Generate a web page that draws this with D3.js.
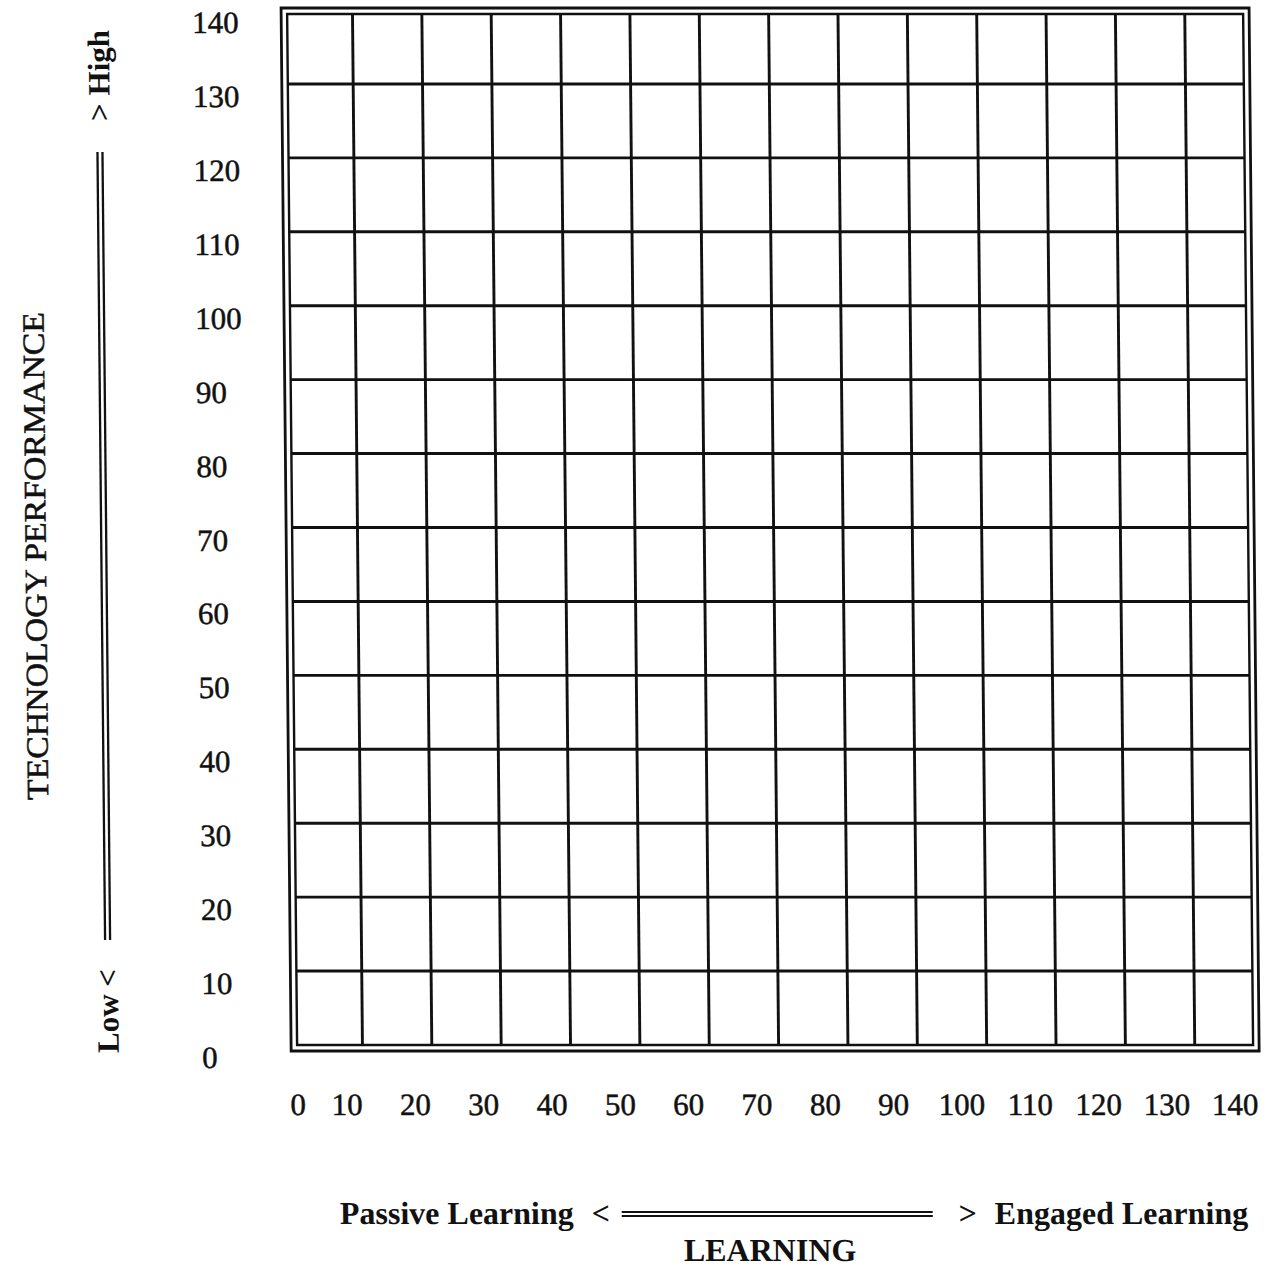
<!DOCTYPE html>
<html>
<head>
<meta charset="utf-8">
<script src="https://cdn.jsdelivr.net/npm/d3@7"></script>
<style>
  html, body { margin: 0; padding: 0; background: #fff; }
  svg { display: block; }
</style>
</head>
<body>
<div id="cont"></div>
<script>
// Tick values along each axis
var xTicks = [0, 10, 20, 30, 40, 50, 60, 70, 80, 90, 100, 110, 120, 130, 140];
var yTicks = [0, 10, 20, 30, 40, 50, 60, 70, 80, 90, 100, 110, 120, 130, 140];

// Axis captions
var yTitle = "TECHNOLOGY PERFORMANCE";
var yLow = "Low";
var yHigh = "High";
var xLow = "Passive Learning";
var xHigh = "Engaged Learning";
var xTitle = "LEARNING";

// Page
var W = 1271, H = 1267;
var serif = "'Liberation Serif', 'Times New Roman', serif";
var ink = "#111";

var svg = d3.select("#cont").append("svg")
    .attr("width", W)
    .attr("height", H);

svg.append("rect").attr("width", W).attr("height", H).attr("fill", "#fff");

// the scanned form leans a little to the right going down
var root = svg.append("g").attr("transform", "skewX(0.553)");

// Scales for the grid
var x = d3.scaleLinear().domain([0, 140]).range([283, 1254]);
var y = d3.scaleLinear().domain([0, 140]).range([1045, 10]);

// the typed tick labels on the x axis are not evenly spaced at the start
var xLab = d3.scaleLinear().domain([0, 10, 140]).range([287, 336, 1224]);

// box edges
var boxL = x(0) + 4, boxR = x(140) - 11;
var boxT = y(140) + 4, boxB = y(0);

var innerY = yTicks.filter(function(v) { return v > 0 && v < 140; });
var innerX = xTicks.filter(function(v) { return v > 0 && v < 140; });

// Grid
var grid = root.append("g")
    .attr("stroke", ink)
    .attr("stroke-width", 2.9)
    .attr("fill", "none");

grid.selectAll("line.h")
    .data(innerY)
  .enter().append("line")
    .attr("class", "h")
    .attr("x1", boxL).attr("x2", boxR)
    .attr("y1", function(d) { return y(d); })
    .attr("y2", function(d) { return y(d); });

grid.selectAll("line.v")
    .data(innerX)
  .enter().append("line")
    .attr("class", "v")
    .attr("x1", function(d) { return x(d); })
    .attr("x2", function(d) { return x(d); })
    .attr("y1", boxT).attr("y2", boxB);

// Double border
grid.append("rect")
    .attr("x", boxL).attr("y", boxT)
    .attr("width", boxR - boxL).attr("height", boxB - boxT)
    .attr("stroke-width", 2.4);

grid.append("rect")
    .attr("x", boxL - 6).attr("y", boxT - 6)
    .attr("width", boxR - boxL + 12).attr("height", boxB - boxT + 12)
    .attr("stroke-width", 2.8);

// Y tick labels (left aligned, typed)
var gy = root.append("g")
    .attr("transform", "translate(192,12)")
    .call(d3.axisLeft(y).tickValues(yTicks).tickSize(0).tickPadding(0));
gy.select(".domain").remove();
gy.attr("font-family", serif).attr("font-size", 31);
gy.selectAll("text")
    .attr("x", 0)
    .attr("dy", "0.34em")
    .attr("text-anchor", "start")
    .attr("fill", ink)
    .attr("stroke", ink)
    .attr("stroke-width", 0.5);

// X tick labels
var gx = root.append("g")
    .attr("transform", "translate(0,1104)")
    .call(d3.axisBottom(xLab).tickValues(xTicks).tickSize(0).tickPadding(0));
gx.select(".domain").remove();
gx.attr("font-family", serif).attr("font-size", 31);
gx.selectAll("text")
    .attr("y", 0)
    .attr("dy", "0.34em")
    .attr("fill", ink)
    .attr("stroke", ink)
    .attr("stroke-width", 0.5);

// Left titles
root.append("text")
    .attr("transform", "translate(30,556) rotate(-90)")
    .attr("text-anchor", "middle")
    .attr("dy", "0.34em")
    .attr("font-family", serif)
    .attr("font-size", 31)
    .attr("textLength", 488)
    .attr("lengthAdjust", "spacingAndGlyphs")
    .attr("fill", ink)
    .attr("stroke", ink)
    .attr("stroke-width", 0.5)
    .text(yTitle);

root.append("text")
    .attr("transform", "translate(98,30) rotate(-90)")
    .attr("text-anchor", "end")
    .attr("dy", "0.34em")
    .attr("font-family", serif)
    .attr("font-weight", "bold")
    .attr("font-size", 31)
    .attr("fill", ink)
    .text("> " + yHigh);

root.append("text")
    .attr("transform", "translate(98,1053) rotate(-90)")
    .attr("text-anchor", "start")
    .attr("dy", "0.34em")
    .attr("font-family", serif)
    .attr("font-weight", "bold")
    .attr("font-size", 31)
    .attr("fill", ink)
    .text(yLow + " <");

// vertical double arrow shaft
[96, 101].forEach(function(cx) {
  root.append("line")
      .attr("x1", cx).attr("x2", cx)
      .attr("y1", 152).attr("y2", 940)
      .attr("stroke", ink).attr("stroke-width", 2.3);
});

// Bottom titles
var bottomText = function(tx, ty, anchor, s) {
  root.append("text")
      .attr("x", tx).attr("y", ty)
      .attr("dy", "0.34em")
      .attr("text-anchor", anchor)
      .attr("font-family", serif)
      .attr("font-weight", "bold")
      .attr("font-size", 32)
      .attr("fill", ink)
      .text(s);
};

bottomText(562, 1213, "end", xLow);
bottomText(589, 1213, "middle", "<");
bottomText(956, 1213, "middle", ">");
bottomText(983, 1213, "start", xHigh);
bottomText(758, 1250, "middle", xTitle);

[1212, 1216].forEach(function(cy) {
  root.append("line")
      .attr("x1", 610).attr("x2", 921)
      .attr("y1", cy).attr("y2", cy)
      .attr("stroke", ink).attr("stroke-width", 2);
});
</script>
</body>
</html>
